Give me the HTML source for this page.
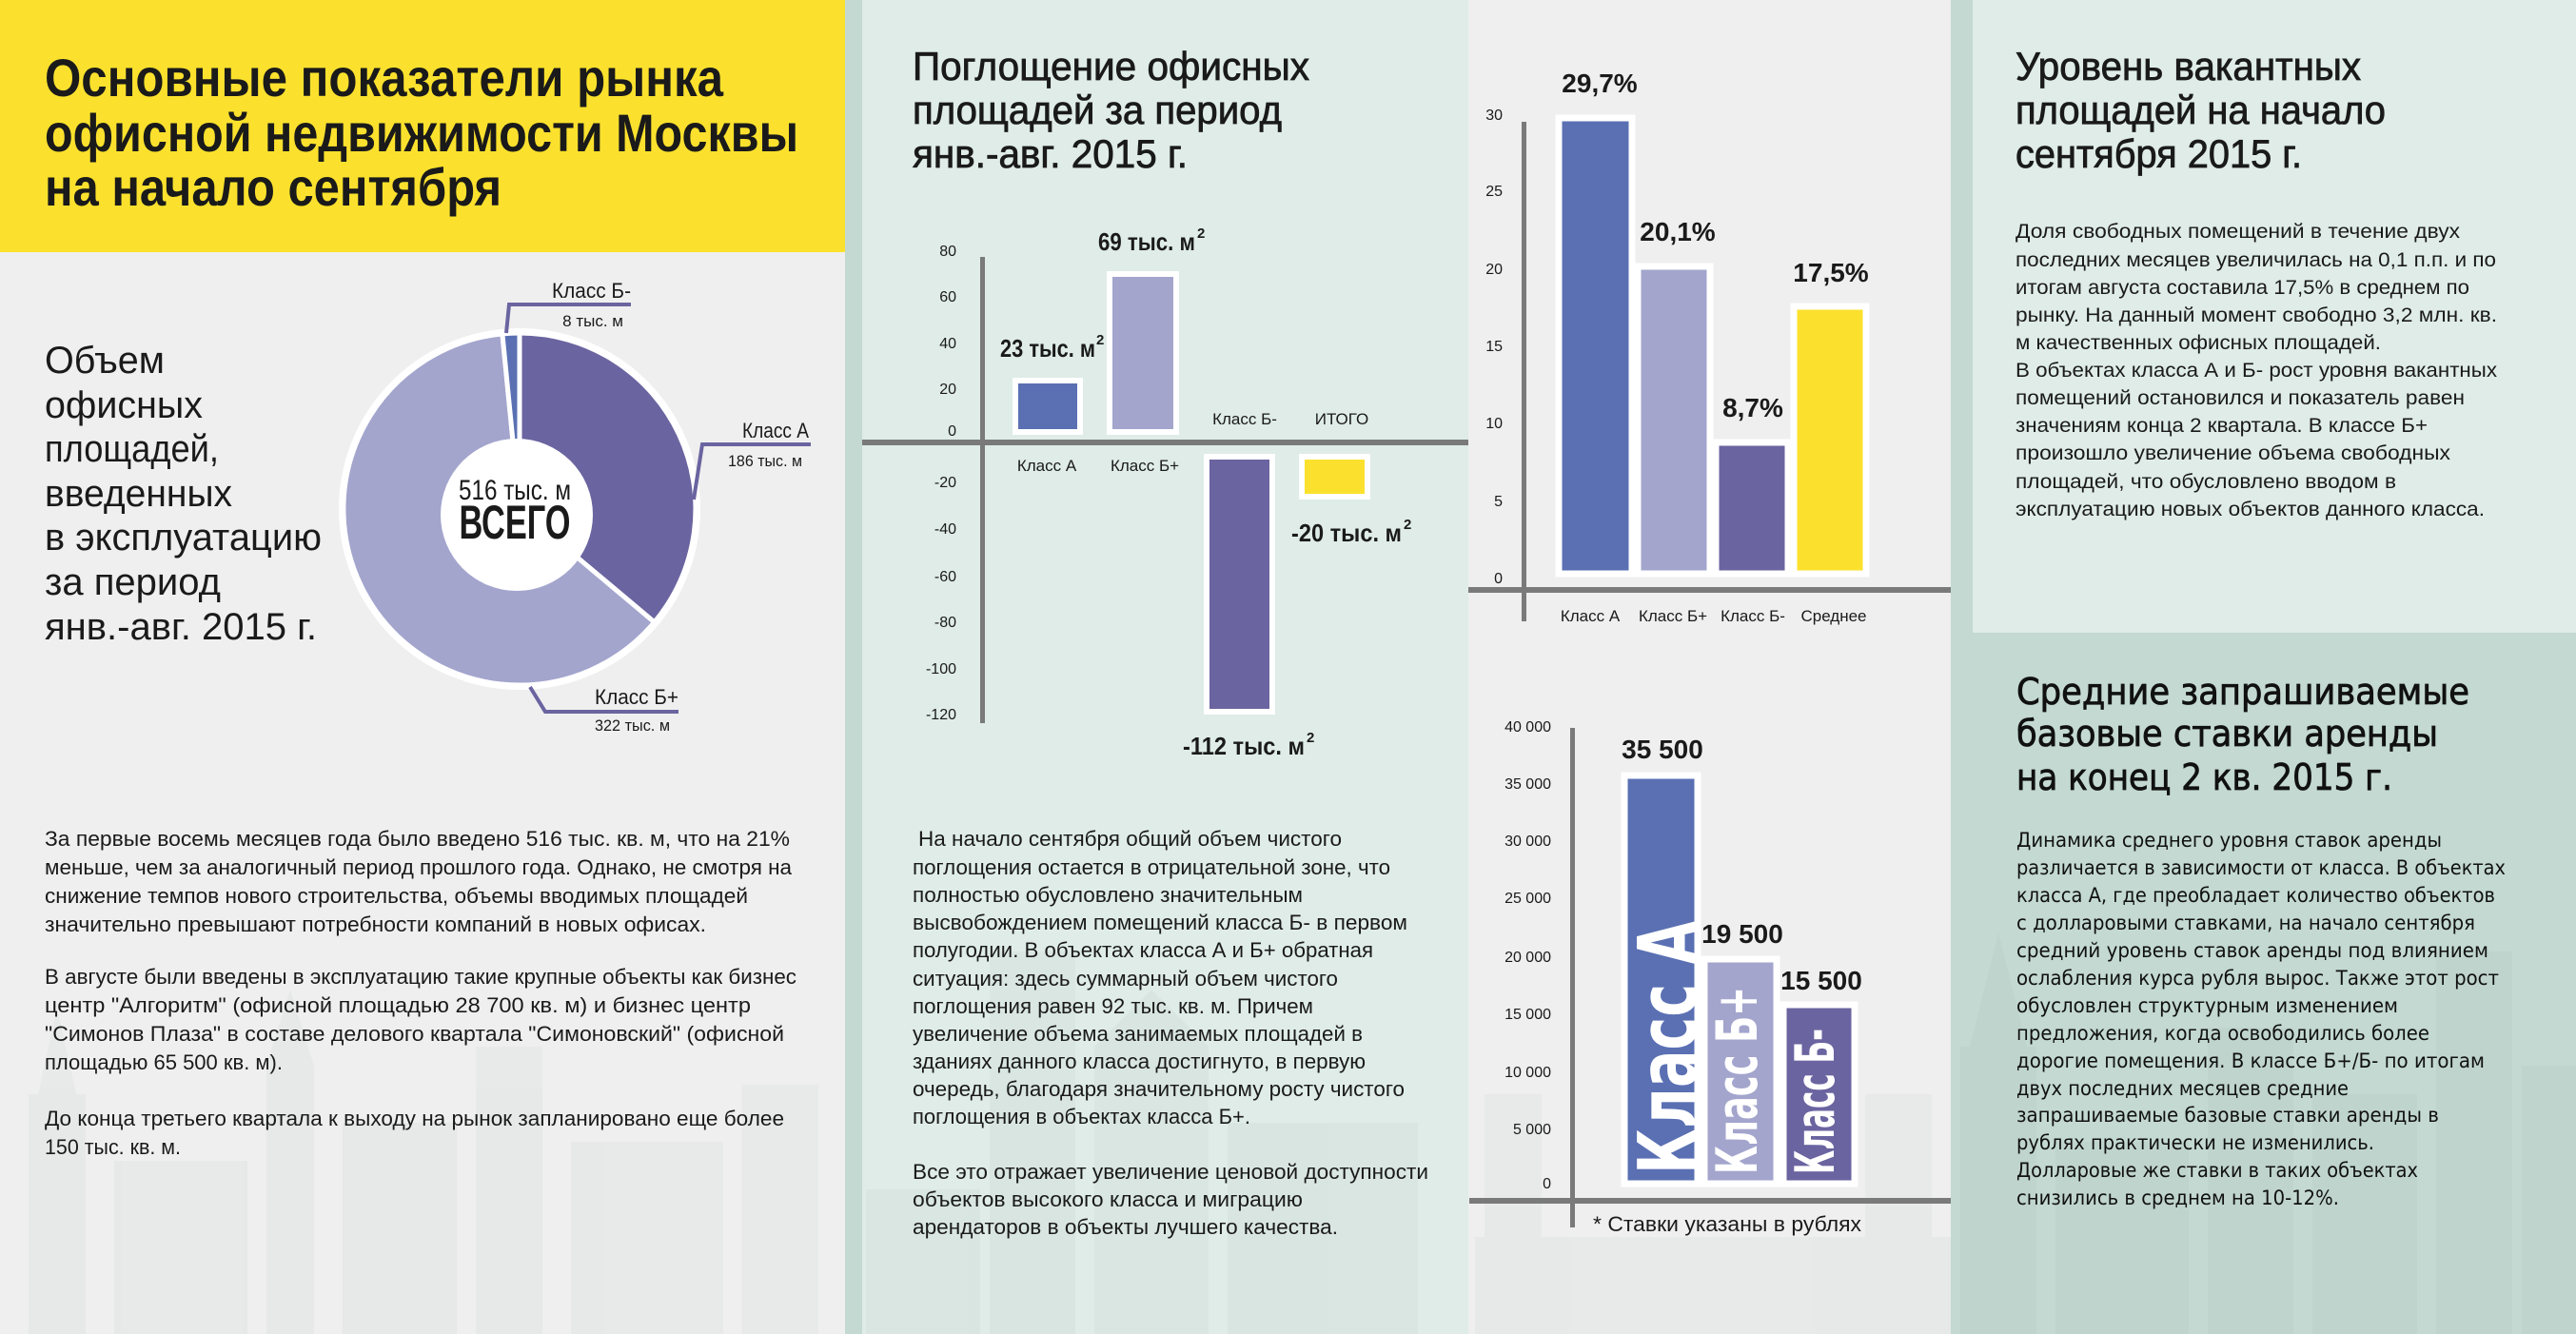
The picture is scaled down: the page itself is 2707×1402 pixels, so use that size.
<!DOCTYPE html>
<html><head><meta charset="utf-8"><style>
html,body{margin:0;padding:0;}
svg{display:block}
.c{font-family:"Liberation Sans Narrow","Liberation Sans","DejaVu Sans",sans-serif;fill:#1a1a1a}
.d{font-family:"DejaVu Sans","Liberation Sans",sans-serif;fill:#111}
</style></head><body>
<svg width="2707" height="1402" viewBox="0 0 2707 1402" xmlns="http://www.w3.org/2000/svg">
<rect x="0" y="0" width="2707" height="1402" fill="#efefef"/>
<rect x="0" y="0" width="888" height="265" fill="#fbe12d"/>
<rect x="888" y="0" width="655" height="1402" fill="#dfece7"/>
<rect x="888" y="0" width="18" height="1402" fill="#c3d9d1"/>
<rect x="2050" y="0" width="657" height="1402" fill="#c3d9d1"/>
<rect x="2073" y="0" width="634" height="665" fill="#dfece7"/>

<g fill="#8f9a98" opacity="0.07">
<rect x="30" y="1150" width="60" height="252"/><polygon points="40,1150 60,1060 80,1150"/>
<rect x="120" y="1220" width="140" height="182"/><rect x="280" y="1120" width="50" height="282"/><polygon points="280,1120 305,1040 330,1120"/>
<rect x="360" y="1180" width="120" height="222"/><rect x="500" y="1100" width="70" height="302"/><rect x="600" y="1200" width="160" height="202"/><rect x="780" y="1140" width="80" height="262"/>
<rect x="910" y="1250" width="120" height="152"/><rect x="1040" y="1000" width="90" height="402"/><rect x="1150" y="1100" width="120" height="302"/><rect x="1290" y="1180" width="200" height="222"/><polygon points="1150,1100 1210,1040 1270,1100"/>
<rect x="1550" y="1300" width="500" height="102"/><rect x="1560" y="1150" width="60" height="150"/><rect x="1960" y="1150" width="70" height="150"/>
<rect x="2060" y="1100" width="80" height="302"/><polygon points="2070,1100 2100,980 2130,1100"/><rect x="2160" y="1200" width="140" height="202"/><rect x="2320" y="1080" width="90" height="322"/><rect x="2430" y="1150" width="110" height="252"/><rect x="2560" y="1000" width="80" height="402"/><rect x="2650" y="1120" width="57" height="282"/>
</g>

<!-- COLUMN 1 -->
<g class="c" font-weight="bold" font-size="56">
<text x="47" y="101" textLength="713" lengthAdjust="spacingAndGlyphs">Основные показатели рынка</text>
<text x="47" y="159" textLength="792" lengthAdjust="spacingAndGlyphs">офисной недвижимости Москвы</text>
<text x="47" y="216" textLength="480" lengthAdjust="spacingAndGlyphs">на начало сентября</text>
</g>
<g class="c" font-size="40">
<text x="47" y="392" textLength="126" lengthAdjust="spacingAndGlyphs">Объем</text>
<text x="47" y="439" textLength="166" lengthAdjust="spacingAndGlyphs">офисных</text>
<text x="47" y="485" textLength="183" lengthAdjust="spacingAndGlyphs">площадей,</text>
<text x="47" y="532" textLength="197" lengthAdjust="spacingAndGlyphs">введенных</text>
<text x="47" y="578" textLength="291" lengthAdjust="spacingAndGlyphs">в эксплуатацию</text>
<text x="47" y="625" textLength="185" lengthAdjust="spacingAndGlyphs">за период</text>
<text x="47" y="672" textLength="286" lengthAdjust="spacingAndGlyphs">янв.-авг. 2015 г.</text>
</g>
<circle cx="546" cy="535" r="190" fill="#fff"/>
<g stroke="#fff" stroke-width="5">
<path d="M546,535 L546,350 A185,185 0 0 1 687.7,653.9 Z" fill="#6a64a0"/>
<path d="M546,535 L687.7,653.9 A185,185 0 1 1 527.9,350.9 Z" fill="#a3a5cd"/>
<path d="M546,535 L527.9,350.9 A185,185 0 0 1 546,350 Z" fill="#5a70b3"/>
</g>
<circle cx="543" cy="541" r="80" fill="#fff"/>
<text class="c" x="541" y="525" font-size="30" text-anchor="middle" textLength="118" lengthAdjust="spacingAndGlyphs">516 тыс. м</text>
<text class="c" x="541" y="566" font-size="50" font-weight="bold" text-anchor="middle" textLength="117" lengthAdjust="spacingAndGlyphs">ВСЕГО</text>
<g fill="none" stroke="#6a64a0" stroke-width="4">
<polyline points="532,350 535,320 663,320"/>
<polyline points="729,525 738,467 852,467"/>
<polyline points="557,722 573,748 713,748"/>
</g>
<g class="c" text-anchor="end">
<text x="663" y="313" font-size="22" textLength="83" lengthAdjust="spacingAndGlyphs">Класс Б-</text>
<text x="655" y="343" font-size="17">8 тыс. м</text>
<text x="850" y="460" font-size="22" textLength="70" lengthAdjust="spacingAndGlyphs">Класс А</text>
<text x="843" y="490" font-size="17" textLength="78" lengthAdjust="spacingAndGlyphs">186 тыс. м</text>
<text x="713" y="740" font-size="22" textLength="88" lengthAdjust="spacingAndGlyphs">Класс Б+</text>
<text x="704" y="768" font-size="17" textLength="79" lengthAdjust="spacingAndGlyphs">322 тыс. м</text>
</g>
<g class="c" font-size="22">
<text x="47" y="889" textLength="783" lengthAdjust="spacingAndGlyphs">За первые восемь месяцев года было введено 516 тыс. кв. м, что на 21%</text>
<text x="47" y="919" textLength="785" lengthAdjust="spacingAndGlyphs">меньше, чем за аналогичный период прошлого года. Однако, не смотря на</text>
<text x="47" y="949" textLength="739" lengthAdjust="spacingAndGlyphs">снижение темпов нового строительства, объемы вводимых площадей</text>
<text x="47" y="979" textLength="695" lengthAdjust="spacingAndGlyphs">значительно превышают потребности компаний в новых офисах.</text>
<text x="47" y="1034" textLength="790" lengthAdjust="spacingAndGlyphs">В августе были введены в эксплуатацию такие крупные объекты как бизнес</text>
<text x="47" y="1064" textLength="742" lengthAdjust="spacingAndGlyphs">центр "Алгоритм" (офисной площадью 28 700 кв. м) и бизнес центр</text>
<text x="47" y="1094" textLength="777" lengthAdjust="spacingAndGlyphs">"Симонов Плаза" в составе делового квартала "Симоновский" (офисной</text>
<text x="47" y="1124" textLength="250" lengthAdjust="spacingAndGlyphs">площадью 65 500 кв. м).</text>
<text x="47" y="1183" textLength="777" lengthAdjust="spacingAndGlyphs">До конца третьего квартала к выходу на рынок запланировано еще более</text>
<text x="47" y="1213" textLength="143" lengthAdjust="spacingAndGlyphs">150 тыс. кв. м.</text>
</g>

<!-- COLUMN 2 -->
<g class="c" font-size="42" stroke="#1a1a1a" stroke-width="0.8">
<text x="959" y="84" textLength="417" lengthAdjust="spacingAndGlyphs">Поглощение офисных</text>
<text x="959" y="130" textLength="388" lengthAdjust="spacingAndGlyphs">площадей за период</text>
<text x="959" y="176" textLength="289" lengthAdjust="spacingAndGlyphs">янв.-авг. 2015 г.</text>
</g>
<rect x="1030" y="270" width="5" height="490" fill="#7a7a7a"/>
<rect x="906" y="462" width="637" height="6" fill="#7a7a7a"/>
<g class="c" font-size="16" text-anchor="end">
<text x="1005" y="269">80</text><text x="1005" y="317">60</text><text x="1005" y="366">40</text><text x="1005" y="414">20</text><text x="1005" y="458">0</text>
<text x="1005" y="512">-20</text><text x="1005" y="561">-40</text><text x="1005" y="611">-60</text><text x="1005" y="659">-80</text><text x="1005" y="708">-100</text><text x="1005" y="756">-120</text>
</g>
<g stroke="#fff" stroke-width="6">
<rect x="1067" y="400" width="68" height="54" fill="#5a70b3"/>
<rect x="1166" y="288" width="70" height="166" fill="#a3a5cd"/>
<rect x="1268" y="480" width="69" height="268" fill="#6a64a0"/>
<rect x="1368" y="480" width="69" height="42" fill="#fbe12d"/>
</g>
<g class="c" font-weight="bold" font-size="26">
<text x="1051" y="375" textLength="100" lengthAdjust="spacingAndGlyphs">23 тыс. м</text><text x="1152" y="362" font-size="15">2</text>
<text x="1154" y="263" textLength="102" lengthAdjust="spacingAndGlyphs">69 тыс. м</text><text x="1258" y="250" font-size="15">2</text>
<text x="1243" y="793" textLength="128" lengthAdjust="spacingAndGlyphs">-112 тыс. м</text><text x="1373" y="780" font-size="15">2</text>
<text x="1357" y="569" textLength="116" lengthAdjust="spacingAndGlyphs">-20 тыс. м</text><text x="1475" y="556" font-size="15">2</text>
</g>
<g class="c" font-size="17" text-anchor="middle">
<text x="1100" y="495">Класс А</text><text x="1203" y="495">Класс Б+</text>
<text x="1308" y="446">Класс Б-</text><text x="1410" y="446">ИТОГО</text>
</g>
<g class="c" font-size="22">
<text x="965" y="889" textLength="445" lengthAdjust="spacingAndGlyphs">На начало сентября общий объем чистого</text>
<text x="959" y="919" textLength="502" lengthAdjust="spacingAndGlyphs">поглощения остается в отрицательной зоне, что</text>
<text x="959" y="948" textLength="410" lengthAdjust="spacingAndGlyphs">полностью обусловлено значительным</text>
<text x="959" y="977" textLength="520" lengthAdjust="spacingAndGlyphs">высвобождением помещений класса Б- в первом</text>
<text x="959" y="1006" textLength="484" lengthAdjust="spacingAndGlyphs">полугодии. В объектах класса А и Б+ обратная</text>
<text x="959" y="1036" textLength="447" lengthAdjust="spacingAndGlyphs">ситуация: здесь суммарный объем чистого</text>
<text x="959" y="1065" textLength="421" lengthAdjust="spacingAndGlyphs">поглощения равен 92 тыс. кв. м. Причем</text>
<text x="959" y="1094" textLength="473" lengthAdjust="spacingAndGlyphs">увеличение объема занимаемых площадей в</text>
<text x="959" y="1123" textLength="476" lengthAdjust="spacingAndGlyphs">зданиях данного класса достигнуто, в первую</text>
<text x="959" y="1152" textLength="517" lengthAdjust="spacingAndGlyphs">очередь, благодаря значительному росту чистого</text>
<text x="959" y="1181" textLength="355" lengthAdjust="spacingAndGlyphs">поглощения в объектах класса Б+.</text>
<text x="959" y="1239" textLength="542" lengthAdjust="spacingAndGlyphs">Все это отражает увеличение ценовой доступности</text>
<text x="959" y="1268" textLength="410" lengthAdjust="spacingAndGlyphs">объектов высокого класса и миграцию</text>
<text x="959" y="1297" textLength="447" lengthAdjust="spacingAndGlyphs">арендаторов в объекты лучшего качества.</text>
</g>

<!-- COLUMN 3 top chart -->
<rect x="1599" y="128" width="5" height="525" fill="#7a7a7a"/>
<rect x="1543" y="617" width="507" height="6" fill="#7a7a7a"/>
<g class="c" font-size="16" text-anchor="end">
<text x="1579" y="126">30</text><text x="1579" y="206">25</text><text x="1579" y="288">20</text><text x="1579" y="369">15</text><text x="1579" y="450">10</text><text x="1579" y="532">5</text><text x="1579" y="613">0</text>
</g>
<g stroke="#fff" stroke-width="7">
<rect x="1638" y="124" width="77" height="479" fill="#5a70b3"/>
<rect x="1721" y="280" width="76" height="323" fill="#a3a5cd"/>
<rect x="1803" y="465" width="76" height="138" fill="#6a64a0"/>
<rect x="1885" y="322" width="76" height="281" fill="#fbe12d"/>
</g>
<g class="c" font-weight="bold" font-size="28" text-anchor="middle">
<text x="1681" y="97">29,7%</text><text x="1763" y="253">20,1%</text><text x="1842" y="438">8,7%</text><text x="1924" y="296">17,5%</text>
</g>
<g class="c" font-size="17" text-anchor="middle">
<text x="1671" y="653">Класс А</text><text x="1758" y="653">Класс Б+</text><text x="1842" y="653">Класс Б-</text><text x="1927" y="653">Среднее</text>
</g>

<!-- COLUMN 3 rent chart -->
<rect x="1650" y="765" width="5" height="525" fill="#7a7a7a"/>
<rect x="1544" y="1259" width="506" height="6" fill="#7a7a7a"/>
<g class="c" font-size="16" text-anchor="end">
<text x="1630" y="769">40 000</text><text x="1630" y="829">35 000</text><text x="1630" y="889">30 000</text><text x="1630" y="949">25 000</text><text x="1630" y="1011">20 000</text><text x="1630" y="1071">15 000</text><text x="1630" y="1132">10 000</text><text x="1630" y="1192">5 000</text><text x="1630" y="1249">0</text>
</g>
<g stroke="#fff" stroke-width="7">
<rect x="1707" y="815" width="77" height="429" fill="#5a70b3"/>
<rect x="1791" y="1008" width="76" height="236" fill="#a3a5cd"/>
<rect x="1874" y="1056" width="75" height="188" fill="#6a64a0"/>
</g>
<g class="c" font-weight="bold" font-size="28" text-anchor="middle">
<text x="1747" y="797">35 500</text><text x="1831" y="991">19 500</text><text x="1914" y="1040">15 500</text>
</g>
<g class="d" font-weight="bold" style="fill:#fff">
<text transform="translate(1782,1234) rotate(-90)" font-size="85" textLength="266" lengthAdjust="spacingAndGlyphs">Класс А</text>
<text transform="translate(1846,1234) rotate(-90)" font-size="60" textLength="197" lengthAdjust="spacingAndGlyphs">Класс Б+</text>
<text transform="translate(1927,1234) rotate(-90)" font-size="57" textLength="153" lengthAdjust="spacingAndGlyphs">Класс Б-</text>
</g>
<text class="c" x="1674" y="1294" font-size="22" textLength="282" lengthAdjust="spacingAndGlyphs">* Ставки указаны в рублях</text>

<!-- COLUMN 4 -->
<g class="c" font-size="42" stroke="#1a1a1a" stroke-width="0.8">
<text x="2118" y="84" textLength="363" lengthAdjust="spacingAndGlyphs">Уровень вакантных</text>
<text x="2118" y="130" textLength="389" lengthAdjust="spacingAndGlyphs">площадей на начало</text>
<text x="2118" y="176" textLength="301" lengthAdjust="spacingAndGlyphs">сентября 2015 г.</text>
</g>
<g class="c" font-size="21">
<text x="2118" y="250" textLength="467" lengthAdjust="spacingAndGlyphs">Доля свободных помещений в течение двух</text>
<text x="2118" y="280" textLength="505" lengthAdjust="spacingAndGlyphs">последних месяцев увеличилась на 0,1 п.п. и по</text>
<text x="2118" y="309" textLength="477" lengthAdjust="spacingAndGlyphs">итогам августа составила 17,5% в среднем по</text>
<text x="2118" y="338" textLength="506" lengthAdjust="spacingAndGlyphs">рынку. На данный момент свободно 3,2 млн. кв.</text>
<text x="2118" y="367" textLength="384" lengthAdjust="spacingAndGlyphs">м качественных офисных площадей.</text>
<text x="2118" y="396" textLength="506" lengthAdjust="spacingAndGlyphs">В объектах класса А и Б- рост уровня вакантных</text>
<text x="2118" y="425" textLength="472" lengthAdjust="spacingAndGlyphs">помещений остановился и показатель равен</text>
<text x="2118" y="454" textLength="433" lengthAdjust="spacingAndGlyphs">значениям конца 2 квартала. В классе Б+</text>
<text x="2118" y="483" textLength="457" lengthAdjust="spacingAndGlyphs">произошло увеличение объема свободных</text>
<text x="2118" y="513" textLength="400" lengthAdjust="spacingAndGlyphs">площадей, что обусловлено вводом в</text>
<text x="2118" y="542" textLength="493" lengthAdjust="spacingAndGlyphs">эксплуатацию новых объектов данного класса.</text>
</g>
<g class="d" font-size="38" stroke="#111" stroke-width="0.8">
<text x="2119" y="740" textLength="476" lengthAdjust="spacingAndGlyphs">Средние запрашиваемые</text>
<text x="2119" y="784" textLength="443" lengthAdjust="spacingAndGlyphs">базовые ставки аренды</text>
<text x="2119" y="830" textLength="395" lengthAdjust="spacingAndGlyphs">на конец 2 кв. 2015 г.</text>
</g>
<g class="d" font-size="21">
<text x="2119" y="890" textLength="447" lengthAdjust="spacingAndGlyphs">Динамика среднего уровня ставок аренды</text>
<text x="2119" y="919" textLength="514" lengthAdjust="spacingAndGlyphs">различается в зависимости от класса. В объектах</text>
<text x="2119" y="948" textLength="503" lengthAdjust="spacingAndGlyphs">класса А, где преобладает количество объектов</text>
<text x="2119" y="977" textLength="482" lengthAdjust="spacingAndGlyphs">с долларовыми ставками, на начало сентября</text>
<text x="2119" y="1006" textLength="496" lengthAdjust="spacingAndGlyphs">средний уровень ставок аренды под влиянием</text>
<text x="2119" y="1035" textLength="507" lengthAdjust="spacingAndGlyphs">ослабления курса рубля вырос.  Также этот рост</text>
<text x="2119" y="1064" textLength="401" lengthAdjust="spacingAndGlyphs">обусловлен структурным изменением</text>
<text x="2119" y="1093" textLength="434" lengthAdjust="spacingAndGlyphs">предложения, когда освободились более</text>
<text x="2119" y="1122" textLength="492" lengthAdjust="spacingAndGlyphs">дорогие помещения. В классе Б+/Б- по итогам</text>
<text x="2119" y="1151" textLength="349" lengthAdjust="spacingAndGlyphs">двух последних месяцев средние</text>
<text x="2119" y="1179" textLength="444" lengthAdjust="spacingAndGlyphs">запрашиваемые базовые ставки аренды в</text>
<text x="2119" y="1208" textLength="376" lengthAdjust="spacingAndGlyphs">рублях практически не изменились.</text>
<text x="2119" y="1237" textLength="422" lengthAdjust="spacingAndGlyphs">Долларовые же ставки в таких объектах</text>
<text x="2119" y="1266" textLength="339" lengthAdjust="spacingAndGlyphs">снизились в среднем на 10-12%.</text>
</g>
</svg>
</body></html>
